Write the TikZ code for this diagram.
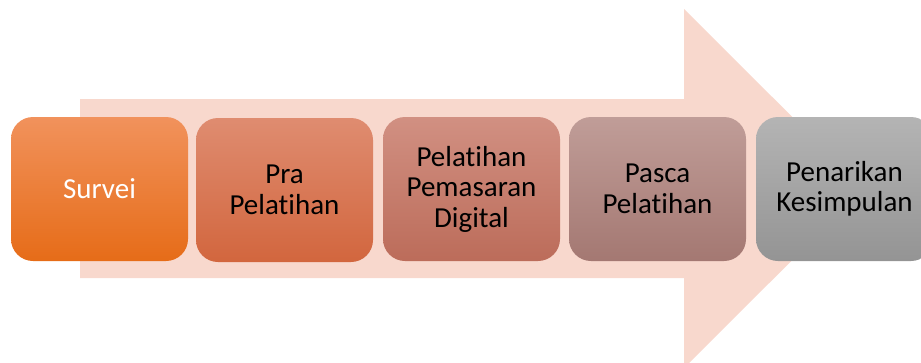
\documentclass[tikz,border=0pt]{standalone}
\usepackage{fontspec}
\setmainfont{Carlito}[Ligatures=NoCommon]
\begin{document}
\begin{tikzpicture}[x=1pt,y=-1pt,
  stage/.style={rectangle, rounded corners=22pt, minimum width=177pt, minimum height=144pt,
    inner sep=0pt, align=center, text width=172pt, font=\fontsize{29}{30.5}\selectfont},
  arrowfill/.style={fill={rgb,255:red,248;green,216;blue,205}}]
\definecolor{s1t}{RGB}{241,146,92}\definecolor{s1b}{RGB}{230,108,24}
\definecolor{s2t}{RGB}{223,140,112}\definecolor{s2b}{RGB}{210,102,62}
\definecolor{s3t}{RGB}{209,144,130}\definecolor{s3b}{RGB}{188,108,90}
\definecolor{s4t}{RGB}{192,157,152}\definecolor{s4b}{RGB}{164,120,114}
\definecolor{s5t}{RGB}{180,180,180}\definecolor{s5b}{RGB}{148,148,148}
\useasboundingbox (0,0) rectangle (921,362);
\clip (0,0) rectangle (921,362);
% background block arrow
\path[arrowfill] (80,99) -- (684,99) -- (684,9) -- (864,188.5) -- (684,368) -- (684,278) -- (80,278) -- cycle;
% process stages
\node[stage, top color=s1t, bottom color=s1b, text=white] (survei) at (99.5,189) {Survei};
\node[stage, top color=s2t, bottom color=s2b] (pra) at (284.5,190) {Pra\\Pelatihan};
\node[stage, top color=s3t, bottom color=s3b] (digital) at (471.5,189) {Pelatihan\\Pemasaran\\Digital};
\node[stage, top color=s4t, bottom color=s4b] (pasca) at (657.5,189) {Pasca\\Pelatihan};
\node[stage, top color=s5t, bottom color=s5b] (simpul) at (844.5,189) {Penarikan\\Kesimpulan};
\end{tikzpicture}
\end{document}
